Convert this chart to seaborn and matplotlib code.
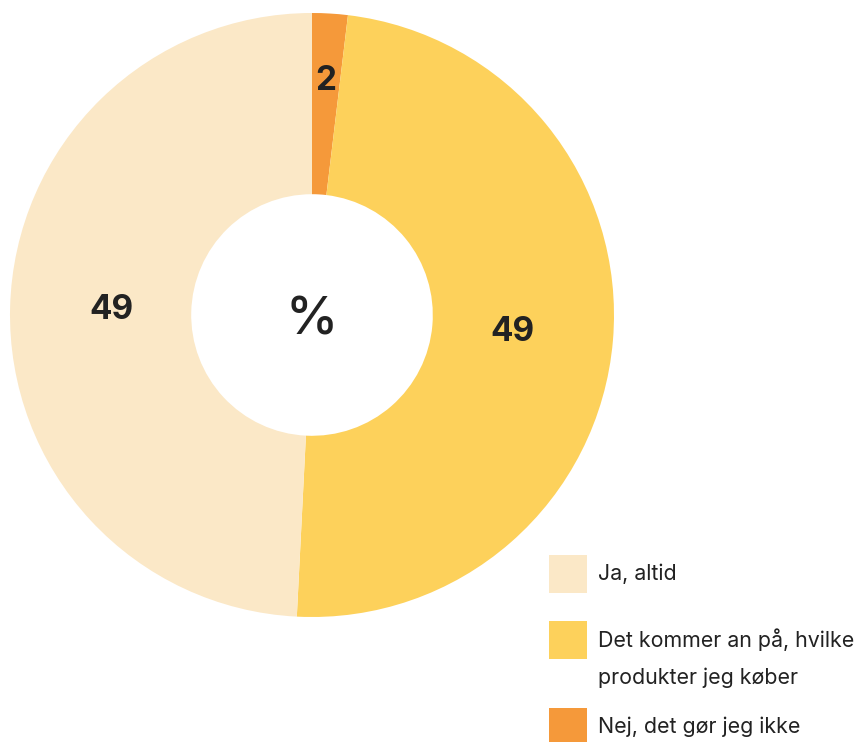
import numpy as np
import matplotlib
matplotlib.use("Agg")
import matplotlib.pyplot as plt
from matplotlib.patches import Rectangle
import seaborn as sns

categories = ["Nej, det gør jeg ikke", "Det kommer an på, hvilke\nprodukter jeg køber", "Ja, altid"]
values = [1.9, 48.9, 49.2]
colors = ["#F5993A", "#FDD15B", "#FBE8C7"]
label_radius = [0.775, 0.665, 0.665]
legend_order = [2, 1, 0]

sns.set_theme(style="white")
plt.rcParams["font.family"] = ["Inter", "DejaVu Sans"]

W, H = 861, 742
fig = plt.figure(figsize=(W / 100, H / 100), dpi=100)
fig.patch.set_facecolor("white")

cx, cy, R = 312, 315, 302
ax = fig.add_axes([(cx - R) / W, (H - cy - R) / H, 2 * R / W, 2 * R / H])
ax.set_xlim(-1, 1)
ax.set_ylim(-1, 1)
ax.set_aspect("equal")
ax.axis("off")

wedges, _ = ax.pie(values, colors=colors, startangle=90, counterclock=False,
                   radius=1.0, wedgeprops=dict(width=0.6, linewidth=0),
                   frame=False)
ax.set_xlim(-1, 1)
ax.set_ylim(-1, 1)

total = sum(values)
start = 90.0
for v, r in zip(values, label_radius):
    span = 360.0 * v / total
    mid = np.deg2rad(start - span / 2)
    ax.text(r * np.cos(mid), r * np.sin(mid), f"{round(v)}", ha="center", va="center",
            fontsize=24, fontweight="bold", color="#222222")
    start -= span

ax.text(0, -0.02, "%", ha="center", va="center", fontsize=38, fontweight="medium",
        color="#222222")

# legend
sq = 38
legend_y = [574, 640, 727]
text_y = [574, 658, 727]
for i, idx in enumerate(legend_order):
    y = legend_y[i]
    fig.patches.append(Rectangle(((549) / W, (H - y - sq / 2) / H), sq / W, sq / H,
                                 transform=fig.transFigure, facecolor=colors[idx],
                                 edgecolor="none"))
    fig.text(598 / W, (H - text_y[i]) / H, categories[idx], ha="left", va="center",
             fontsize=15.4, color="#222222", linespacing=2.0)

fig.savefig("out.png", dpi=100, facecolor="white")
